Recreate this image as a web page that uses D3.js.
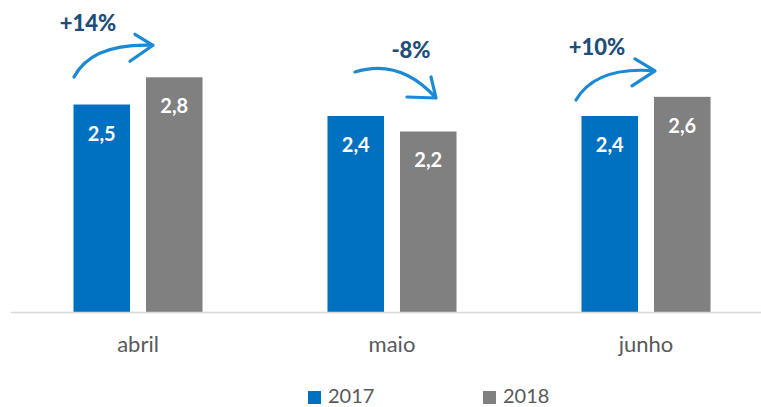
<!DOCTYPE html>
<html>
<head>
<meta charset="utf-8">
<script src="https://cdn.jsdelivr.net/npm/d3@7"></script>
<style>
  body { margin: 0; background: #fff; }
  svg { display: block; font-family: "Lato", "Open Sans", sans-serif; }
</style>
</head>
<body>
<div id="chart"></div>
<script>
const months = ["abril", "maio", "junho"];
const seriesNames = ["2017", "2018"];
const values2017 = [2.515, 2.376, 2.376];
const values2018 = [2.845, 2.188, 2.608];
const changeLabels = ["+14%", "-8%", "+10%"];
const colors = ["#0070c0", "#808080"];

const width = 761, height = 407;
const baseY = 312;

const svg = d3.select("#chart").append("svg")
	.attr("width", width)
	.attr("height", height);

const x0 = d3.scaleBand()
	.domain(months)
	.range([11, 773])
	.paddingInner(0.492)
	.paddingOuter(0.246);

const x1 = d3.scaleBand()
	.domain(seriesNames)
	.range([0, x0.bandwidth()])
	.paddingInner(0.22);

const y = d3.scaleLinear()
	.domain([0, 3])
	.range([baseY, baseY - 247.5]);

const rows = months.map((m, i) => ({month: m, vals: [values2017[i], values2018[i]]}));

const groups = svg.selectAll(".grp")
	.data(rows)
	.enter().append("g")
	.attr("class", "grp")
	.attr("transform", d => "translate(" + x0(d.month) + ",0)");

const bars = groups.selectAll("g.bar")
	.data(d => d.vals.map((v, j) => ({key: seriesNames[j], v: v, j: j})))
	.enter().append("g")
	.attr("class", "bar");

bars.append("rect")
	.attr("x", d => x1(d.key))
	.attr("y", d => y(d.v))
	.attr("width", x1.bandwidth())
	.attr("height", d => baseY - y(d.v))
	.style("fill", d => colors[d.j]);

bars.append("text")
	.attr("x", d => x1(d.key) + x1.bandwidth() / 2)
	.attr("y", d => y(d.v) + 36)
	.attr("text-anchor", "middle")
	.style("fill", "#fff")
	.style("font-weight", "bold")
	.style("font-size", "20px")
	.text(d => d3.format(".1f")(d.v).replace(".", ","));

// axis line
svg.append("line")
	.attr("x1", 11).attr("x2", width)
	.attr("y1", baseY + 0.5).attr("y2", baseY + 0.5)
	.style("stroke", "#d9d9d9")
	.style("stroke-width", 1.5);

// category labels
svg.selectAll(".cat")
	.data(months)
	.enter().append("text")
	.attr("class", "cat")
	.attr("x", d => x0(d) + x0.bandwidth() / 2)
	.attr("y", 352)
	.attr("text-anchor", "middle")
	.style("fill", "#595959")
	.style("font-size", "22px")
	.text(d => d);

// arrows: start offset from blue bar top-left, tip offset from gray bar top-left
const arrowStart = [[0.5, -27.5], [27.5, -44], [-5.5, -16]];
const arrowTip = [[7, -32], [36, -33.5], [1, -26]];
const arrowCtrl = [[18, -34], [45, -14], [20, -34]];
const arrowBarbs = [[[-18, -11], [-23, 16]], [[-5, -21], [-29, -1]], [[-20, -12], [-23, 15]]];
const labelOffset = [[14, -46], [56, -14], [21, -45]];

const arrowColor = "#1a8ad4";
rows.forEach((d, i) => {
	const bl = x0(d.month) + x1(seriesNames[0]);
	const gl = x0(d.month) + x1(seriesNames[1]);
	const sx = bl + arrowStart[i][0], sy = y(d.vals[0]) + arrowStart[i][1];
	const tx = gl + arrowTip[i][0], ty = y(d.vals[1]) + arrowTip[i][1];
	const p = d3.path();
	p.moveTo(sx, sy);
	p.quadraticCurveTo(sx + arrowCtrl[i][0], sy + arrowCtrl[i][1], tx, ty);
	arrowBarbs[i].forEach(b => {
		p.moveTo(tx + b[0], ty + b[1]);
		p.lineTo(tx, ty);
	});
	svg.append("path")
		.attr("d", p.toString())
		.style("fill", "none")
		.style("stroke", arrowColor)
		.style("stroke-width", 3.2)
		.style("stroke-linecap", "round")
		.style("stroke-linejoin", "round");

	svg.append("text")
		.attr("x", sx + labelOffset[i][0])
		.attr("y", sy + labelOffset[i][1])
		.attr("text-anchor", "middle")
		.style("fill", "#1f4e79")
		.style("font-weight", "900")
		.style("font-size", "22px")
		.text(changeLabels[i]);
});

// legend
const legend = svg.selectAll(".legend")
	.data(seriesNames)
	.enter().append("g")
	.attr("class", "legend")
	.attr("transform", (d, i) => "translate(" + (308 + i * 175) + ",391)");

legend.append("rect")
	.attr("width", 13)
	.attr("height", 13)
	.style("fill", (d, i) => colors[i]);

legend.append("text")
	.attr("x", 20)
	.attr("y", 12)
	.style("fill", "#595959")
	.style("font-size", "20px")
	.text(d => d);
</script>
</body>
</html>
